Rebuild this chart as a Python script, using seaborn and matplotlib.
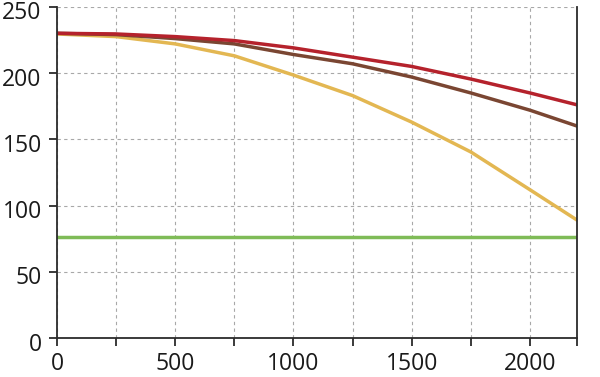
import numpy as np
import pandas as pd
import matplotlib
matplotlib.use("Agg")
import matplotlib.pyplot as plt
import matplotlib.transforms as mtransforms
import seaborn as sns

# values
x_vals = [0, 250, 500, 750, 1000, 1250, 1500, 1750, 2000, 2200]
red_vals = [230, 229.5, 227.5, 224.5, 219, 212, 205, 195.5, 185, 176]
brown_vals = [230, 229, 226, 222, 214, 207, 197, 185, 172, 160]
yellow_vals = [229.5, 227.5, 222, 213, 198.5, 183, 163, 140.5, 112, 89]
green_vals = [76.5] * len(x_vals)

series_names = ["red", "brown", "yellow", "green"]
colors = {"red": "#b5222c", "brown": "#7a4632", "yellow": "#e3b752", "green": "#7fbb57"}

df = pd.DataFrame({
    "x": x_vals * 4,
    "y": red_vals + brown_vals + yellow_vals + green_vals,
    "series": sum([[n] * len(x_vals) for n in series_names], []),
})

sns.set_style("white")
plt.rcParams["font.family"] = ["Open Sans", "DejaVu Sans"]

fig, ax = plt.subplots(figsize=(6, 3.77), dpi=100)
fig.subplots_adjust(left=0.095, right=0.962, top=0.982, bottom=0.103)

# draw order: green, yellow, brown, red on top
order = ["green", "yellow", "brown", "red"]
for name in order:
    sub = df[df["series"] == name]
    sns.lineplot(data=sub, x="x", y="y", color=colors[name], linewidth=2.5,
                 ax=ax, legend=False)

ax.set_xlim(0, 2200)
ax.set_ylim(0, 250)
xt = [0, 250, 500, 750, 1000, 1250, 1500, 1750, 2000, 2200]
ax.set_xticks(xt)
ax.set_xticklabels([str(v) if v % 500 == 0 else "" for v in xt])
ax.set_yticks(range(0, 251, 50))
ax.set_xlabel("")
ax.set_ylabel("")

ax.grid(True, color="#a8a8a8", linestyle=(0, (3, 3)), linewidth=0.8)
ax.set_axisbelow(True)

for side in ["left", "bottom", "right"]:
    ax.spines[side].set_visible(True)
    ax.spines[side].set_color("#2b2b2b")
    ax.spines[side].set_linewidth(1.3)
ax.spines["top"].set_visible(False)

ax.tick_params(axis="both", direction="out", length=6, width=1.3, color="#2b2b2b",
               labelsize=16.5, labelcolor="#1a1a1a")
ax.tick_params(axis="y", left=True, pad=5)
ax.tick_params(axis="x", bottom=True, pad=4)

# y labels sit a little below their ticks in the reference
shift = mtransforms.ScaledTranslation(0, -2.5 / 72, fig.dpi_scale_trans)
for lab in ax.get_yticklabels():
    lab.set_transform(lab.get_transform() + shift)

fig.savefig("out.png", dpi=100)
